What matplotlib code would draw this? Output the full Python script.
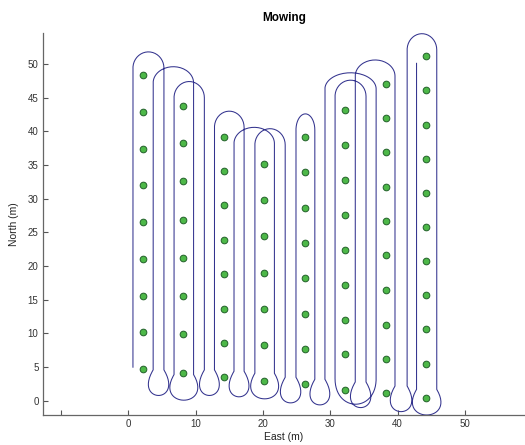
import numpy as np
import matplotlib
matplotlib.use('Agg')
import matplotlib.pyplot as plt

plt.rcParams['font.family'] = ['Liberation Sans', 'DejaVu Sans']

# waypoint columns (East) and their North values
col_x = [2.2, 8.2, 14.2, 20.2, 26.2, 32.2, 38.2, 44.2]
col_y = [
    [48.4, 42.9, 37.4, 32.0, 26.5, 21.0, 15.6, 10.2, 4.7],
    [43.8, 38.3, 32.6, 26.8, 21.2, 15.6, 9.9, 4.2],
    [39.2, 34.1, 29.0, 23.9, 18.8, 13.7, 8.6, 3.6],
    [35.2, 29.8, 24.4, 19.0, 13.7, 8.3, 3.0],
    [39.1, 33.9, 28.6, 23.4, 18.2, 12.9, 7.7, 2.5],
    [43.2, 38.0, 32.8, 27.6, 22.4, 17.2, 12.0, 6.9, 1.6],
    [47.1, 42.0, 36.9, 31.8, 26.7, 21.6, 16.5, 11.3, 6.2, 1.1],
    [51.2, 46.1, 41.0, 35.9, 30.9, 25.8, 20.7, 15.7, 10.6, 5.5, 0.4],
]

# mower path: straight passes (alternating up / down), top of each headland turn,
# lowest point of each bottom turn
pass_x = [0.7, 5.3, 3.7, 9.7, 6.8, 11.3, 12.8, 17.2, 15.7, 21.7, 18.8, 23.3,
          24.9, 27.7, 29.2, 36.8, 30.7, 35.3, 33.7, 39.6, 41.4, 45.8, 42.8]
top_y = [51.8, 49.6, 47.4, 43.0, 40.6, 40.4, 42.6, 48.7, 47.6, 50.6, 54.5]
bottom_y = [0.8, 0.1, 0.8, 0.6, 0.3, -0.3, -0.6, -0.5, -1.0, -1.6, -2.1]
start_y = 5.0
end_y = 50.1

xticks = [-10, 0, 10, 20, 30, 40, 50]
xticklabels = ['', '0', '10', '20', '30', '40', '50']
yticks = [0, 5, 10, 15, 20, 25, 30, 35, 40, 45, 50]

R = 2.4      # turn radius used to draw the arcs
D = 3.8      # depth of bottom turns


def top_arc(xa, xb, yt):
    t = np.linspace(np.pi, 0, 40) if xb > xa else np.linspace(0, np.pi, 40)
    cx = (xa + xb) / 2
    hx = abs(xb - xa) / 2
    return cx + hx * np.cos(t), (yt - R) + R * np.sin(t)


def bottom_turn(xa, xb, low):
    ya = low + D
    h = D / 0.75
    w = xb - xa
    s = np.sign(w)
    if abs(w) > 4:
        p1x, p2x = xa, xb
    else:
        # bulb turn: swing out past both passes
        e = 3.0
        p1x = xa - s * e
        p2x = xb + s * e
    t = np.linspace(0, 1, 60)
    bx = ((1 - t) ** 3 * xa + 3 * (1 - t) ** 2 * t * p1x
          + 3 * (1 - t) * t ** 2 * p2x + t ** 3 * xb)
    by = ((1 - t) ** 3 * ya + 3 * (1 - t) ** 2 * t * (ya - h)
          + 3 * (1 - t) * t ** 2 * (ya - h) + t ** 3 * ya)
    return bx, by


px, py = [pass_x[0]], [start_y]
for i in range(0, len(pass_x) - 1, 2):
    k = i // 2
    ax_, ay_ = top_arc(pass_x[i], pass_x[i + 1], top_y[k])
    px += list(ax_)
    py += list(ay_)
    if k < len(bottom_y):
        bx, by = bottom_turn(pass_x[i + 1], pass_x[i + 2], bottom_y[k])
        px += list(bx)
        py += list(by)
px.append(pass_x[-1])
py.append(end_y)

fig = plt.figure(figsize=(5.25, 4.45), dpi=100)
ax = fig.add_axes([0.0813, 0.0674, 0.9187, 0.8584])
ax.plot(px, py, color='#33338e', lw=0.75)
for x, ys in zip(col_x, col_y):
    ax.plot([x] * len(ys), ys, 'o', ms=4.8, mfc='#4db848', mec='#23612a', mew=0.7,
            ls='none')

ax.set_xlim(-12.7, 58.9)
ax.set_ylim(-2.1, 54.6)
ax.set_xticks(xticks)
ax.set_xticklabels(xticklabels)
ax.set_yticks(yticks)
ax.tick_params(direction='in', length=3.6, width=0.8, labelsize=7,
               colors='#555555', labelcolor='#333333', pad=3)
for sp in ['top', 'right']:
    ax.spines[sp].set_visible(False)
for sp in ['left', 'bottom']:
    ax.spines[sp].set_color('#666666')
    ax.spines[sp].set_linewidth(0.9)
ax.set_xlabel('East (m)', fontsize=7.5, color='#222222', labelpad=2)
ax.set_ylabel('North (m)', fontsize=7.5, color='#222222', labelpad=6)
ax.set_title('Mowing', fontsize=8.5, fontweight='bold', pad=9)

fig.savefig('out.png', dpi=100)
